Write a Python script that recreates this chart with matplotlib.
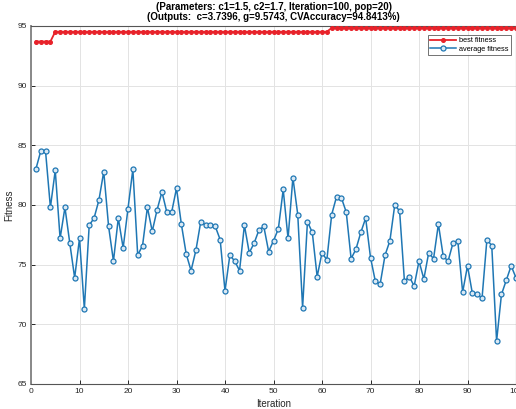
import matplotlib
matplotlib.use("Agg")
import matplotlib.pyplot as plt
import numpy as np

iterations = list(range(1, 101))
best_fitness = [93.7] * 4 + [94.52] * 57 + [94.84] * 39
average_fitness = [
    83.0, 84.5, 84.5, 79.8, 82.9, 77.2, 79.8, 76.8, 73.9, 77.2,
    71.3, 78.3, 78.9, 80.4, 82.8, 78.2, 75.3, 78.9, 76.4, 79.7,
    83.0, 75.8, 76.6, 79.8, 77.8, 79.6, 81.1, 79.4, 79.4, 81.4,
    78.4, 75.9, 74.5, 76.2, 78.6, 78.3, 78.3, 78.2, 77.1, 72.8,
    75.8, 75.3, 74.5, 78.3, 76.0, 76.8, 77.9, 78.2, 76.1, 77.0,
    78.0, 81.3, 77.2, 82.3, 79.2, 71.4, 78.6, 77.7, 74.0, 76.0,
    75.4, 79.2, 80.7, 80.6, 79.4, 75.5, 76.3, 77.7, 78.9, 75.6,
    73.6, 73.4, 75.8, 77.0, 80.0, 79.5, 73.6, 74.0, 73.2, 75.3,
    73.8, 76.0, 75.5, 78.4, 75.7, 75.3, 76.8, 77.0, 72.7, 74.9,
    72.6, 72.5, 72.2, 77.1, 76.6, 68.6, 72.5, 73.7, 74.9, 73.9,
]
x_ticks = list(range(0, 101, 10))
y_ticks = list(range(65, 96, 5))
title_lines = ["(Parameters: c1=1.5, c2=1.7, Iteration=100, pop=20)",
               "(Outputs:  c=3.7396, g=9.5743, CVAccuracy=94.8413%)"]

plt.rcParams['font.family'] = ['Liberation Sans', 'DejaVu Sans']
fig = plt.figure(figsize=(5.16, 4.09), dpi=100)
ax = fig.add_axes([31 / 516, 1 - 384 / 409, 485 / 516, (384 - 26) / 409])

ax.plot(iterations, best_fitness, color='#e8222a', lw=1.3, marker='o',
        ms=2.6, mfc='#e8222a', mec='#e8222a', label='best fitness', zorder=3)
ax.plot(iterations, average_fitness, color='#1f77b4', lw=1.1, marker='o',
        ms=3.6, mfc='#dbe9f4', mec='#1f77b4', mew=0.9, label='average fitness', zorder=3)

ax.set_xlim(0, 100)
ax.set_ylim(65, 95)
ax.set_xticks(x_ticks)
ax.set_yticks(y_ticks)
ax.grid(True, color='#e3e3e3', lw=0.7)
ax.set_axisbelow(True)
ax.tick_params(direction='in', length=3, width=0.7, labelsize=6, colors='#262626',
               pad=3)
for s in ax.spines.values():
    s.set_color('#555555')
    s.set_linewidth(0.8)
ax.spines['left'].set_color('#888888')
ax.spines['left'].set_linewidth(1.4)

ax.set_xlabel('Iteration', fontsize=7, color='#262626', labelpad=3)
ax.set_ylabel('Fitness', fontsize=7, color='#262626', labelpad=2)
ax.set_title("\n".join(title_lines), fontsize=7, fontweight='bold', pad=4,
             linespacing=1.1)

leg = ax.legend(loc='upper right', bbox_to_anchor=(0.997, 0.985), fontsize=5.3,
                frameon=True, fancybox=False, edgecolor='#333333',
                handlelength=3.6, borderpad=0.3, labelspacing=0.2,
                handletextpad=0.4)
leg.get_frame().set_linewidth(0.6)

fig.savefig('out.png', dpi=100)
